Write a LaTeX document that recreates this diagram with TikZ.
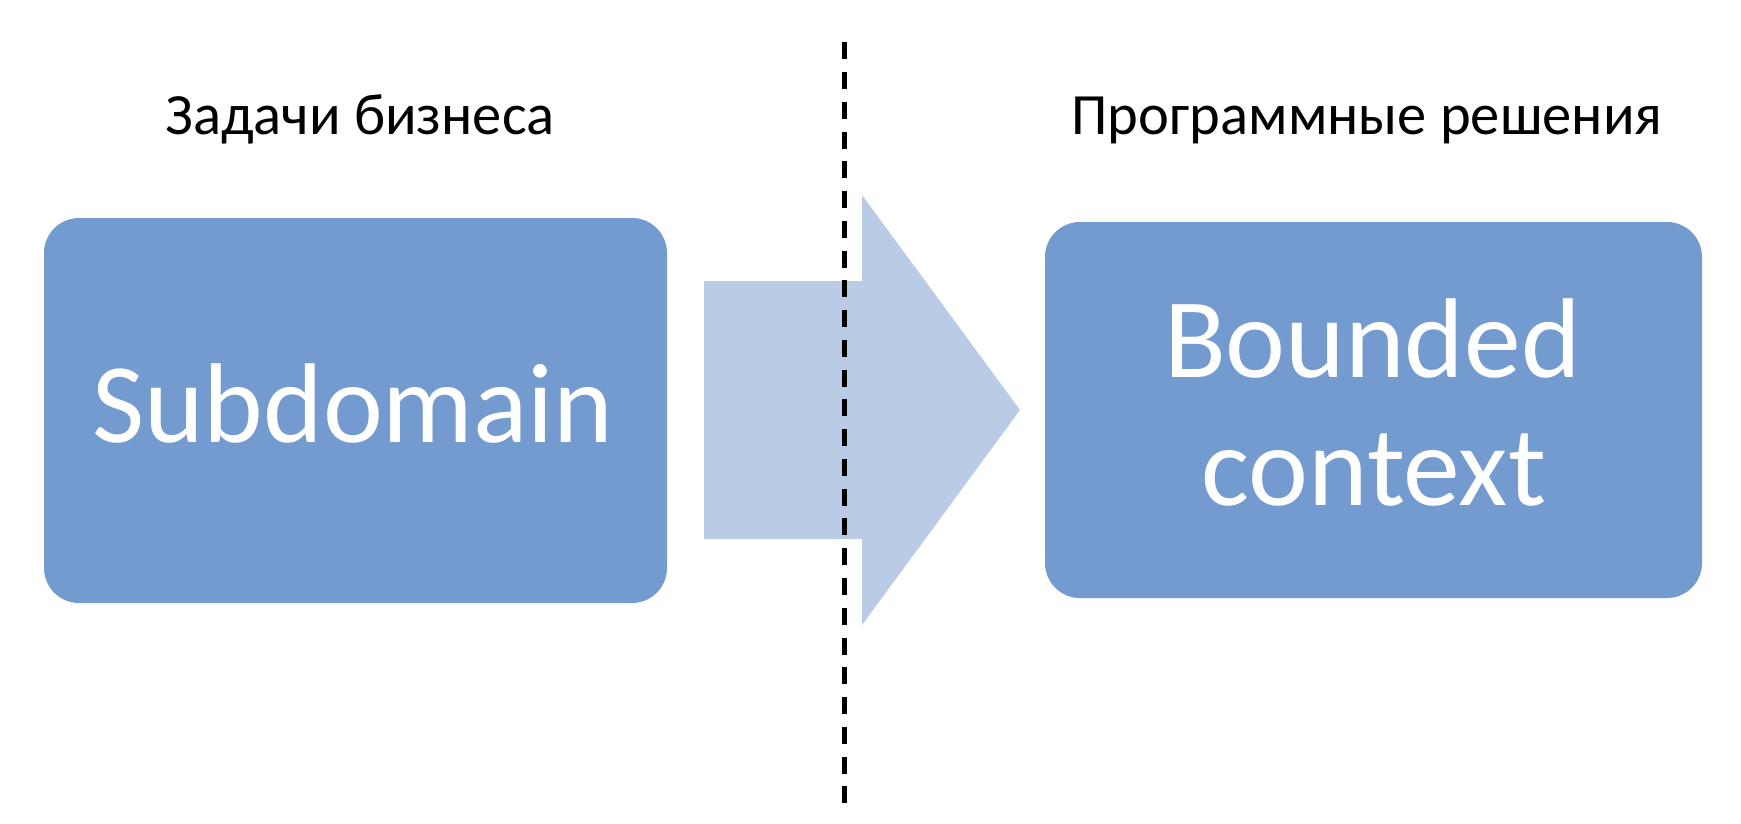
\documentclass[tikz,border=0pt]{standalone}
\usepackage{fontspec}
\setmainfont{Carlito}
\definecolor{boxblue}{RGB}{115,155,208}
\definecolor{arrowblue}{RGB}{186,203,229}
\begin{document}
\begin{tikzpicture}[x=1pt,y=-1pt,
  box/.style={rectangle, rounded corners=35pt, fill=boxblue, draw=none, inner sep=0pt, outer sep=0pt},
  boxtext/.style={anchor=base, text=white, inner sep=0pt, font=\fontsize{113.5}{128}\selectfont},
  title/.style={anchor=base, text=black, inner sep=0pt, font=\fontsize{58.5}{70}\selectfont},
  divider/.style={line width=4.5pt, dash pattern=on 17pt off 12.76pt}]
\useasboundingbox (0,0) rectangle (1741,823);
% boxes
\node[box, minimum width=623pt, minimum height=385pt] (sub) at (355.5,410.5) {};
\node[box, minimum width=657pt, minimum height=376pt] (bc) at (1373.5,410) {};
% texts
\node[boxtext] (subt) at (353,442) {Subdomain};
\node[boxtext] (bct1) at (1372.5,377) {Bounded};
\node[boxtext] (bct2) at (1374,505) {context};
\node[title] (lt) at (360,134) {Задачи бизнеса};
\node[title] (rt) at (1367,134) {Программные решения};
% arrow
\fill[arrowblue] (704,281) -- (862,281) -- (862,195) -- (1020,410) -- (862,625) -- (862,539) -- (704,539) -- cycle;
% divider
\coordinate (dtop) at (844.5,42.3);
\coordinate (dbot) at (844.5,803.3);
\draw[divider] (dtop) -- (dbot);
\end{tikzpicture}
\end{document}
